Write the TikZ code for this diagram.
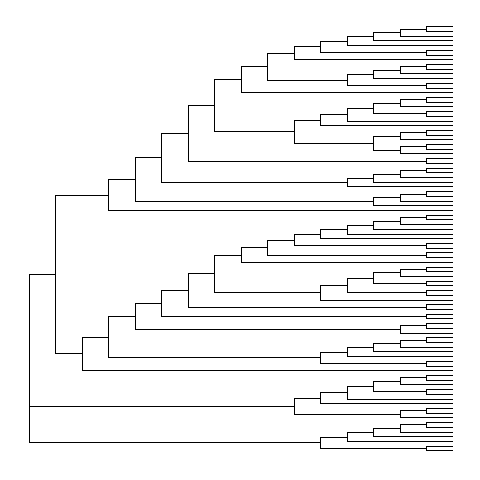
\documentclass[tikz,border=0pt]{standalone}
\usepackage{tikz}
\usetikzlibrary{calc}
\newcommand\clade[4]{%
  \path let \p1=(#3), \p2=(#4) in coordinate (#1) at ({453.3-26.5*#2},{0.5*(\y1+\y2)});
  \draw[branch] (#1) |- (#3) (#1) |- (#4);}
\begin{document}
\begin{tikzpicture}[x=1pt,y=1pt,
      branch/.style={line width=0.8pt,black}]
      \path[fill=white,use as bounding box] (0,0) rectangle (480,480);
      \foreach \i in {1,...,91}
        \coordinate (t\i) at (453.3,{453.33-4.712*(\i-1)});
      \clade{a1}{1}{t1}{t2}
      \clade{a2}{2}{a1}{t3}
      \clade{a3}{3}{a2}{t4}
      \clade{a4}{4}{a3}{t5}
      \clade{a5}{1}{t6}{t7}
      \clade{a6}{5}{a4}{a5}
      \clade{a7}{6}{a6}{t8}
      \clade{a8}{1}{t9}{t10}
      \clade{a9}{2}{a8}{t11}
      \clade{a10}{3}{a9}{t12}
      \clade{a11}{1}{t13}{t14}
      \clade{a12}{4}{a10}{a11}
      \clade{a13}{7}{a7}{a12}
      \clade{a14}{8}{a13}{t15}
      \clade{b1}{1}{t16}{t17}
      \clade{b2}{2}{b1}{t18}
      \clade{b3}{1}{t19}{t20}
      \clade{b4}{3}{b2}{b3}
      \clade{b5}{4}{b4}{t21}
      \clade{b6}{5}{b5}{t22}
      \clade{b7}{1}{t23}{t24}
      \clade{b8}{2}{b7}{t25}
      \clade{b9}{1}{t26}{t27}
      \clade{b10}{2}{b9}{t28}
      \clade{b11}{3}{b8}{b10}
      \clade{b12}{6}{b6}{b11}
      \clade{b13}{9}{a14}{b12}
      \clade{c1}{1}{t29}{t30}
      \clade{c2}{10}{b13}{c1}
      \clade{c3}{1}{t31}{t32}
      \clade{c4}{2}{c3}{t33}
      \clade{c5}{3}{c4}{t34}
      \clade{c6}{4}{c5}{t35}
      \clade{c7}{11}{c2}{c6}
      \clade{c8}{1}{t36}{t37}
      \clade{c9}{2}{c8}{t38}
      \clade{c10}{3}{c9}{t39}
      \clade{c11}{12}{c7}{c10}
      \clade{c12}{13}{c11}{t40}
      \clade{d1}{1}{t41}{t42}
      \clade{d2}{2}{d1}{t43}
      \clade{d3}{3}{d2}{t44}
      \clade{d4}{4}{d3}{t45}
      \clade{d5}{5}{d4}{t46}
      \clade{d6}{1}{t47}{t48}
      \clade{d7}{6}{d5}{d6}
      \clade{d8}{1}{t49}{t50}
      \clade{d9}{7}{d7}{d8}
      \clade{d10}{8}{d9}{t51}
      \clade{e1}{1}{t52}{t53}
      \clade{e2}{2}{e1}{t54}
      \clade{e3}{1}{t55}{t56}
      \clade{e4}{3}{e2}{e3}
      \clade{e5}{1}{t57}{t58}
      \clade{e6}{4}{e4}{e5}
      \clade{e7}{5}{e6}{t59}
      \clade{e8}{9}{d10}{e7}
      \clade{f1}{1}{t60}{t61}
      \clade{f2}{10}{e8}{f1}
      \clade{f3}{1}{t62}{t63}
      \clade{f4}{11}{f2}{f3}
      \clade{f5}{1}{t64}{t65}
      \clade{f6}{2}{f5}{t66}
      \clade{f7}{12}{f4}{f6}
      \clade{g1}{1}{t67}{t68}
      \clade{g2}{2}{g1}{t69}
      \clade{g3}{3}{g2}{t70}
      \clade{g4}{4}{g3}{t71}
      \clade{g5}{1}{t72}{t73}
      \clade{g6}{5}{g4}{g5}
      \clade{g7}{13}{f7}{g6}
      \clade{g8}{14}{g7}{t74}
      \clade{upper}{15}{c12}{g8}
      \clade{h1}{1}{t75}{t76}
      \clade{h2}{2}{h1}{t77}
      \clade{h3}{1}{t78}{t79}
      \clade{h4}{3}{h2}{h3}
      \clade{h5}{4}{h4}{t80}
      \clade{h6}{5}{h5}{t81}
      \clade{h7}{1}{t82}{t83}
      \clade{h8}{2}{h7}{t84}
      \clade{middle}{6}{h6}{h8}
      \clade{k1}{1}{t85}{t86}
      \clade{k2}{2}{k1}{t87}
      \clade{k3}{3}{k2}{t88}
      \clade{k4}{4}{k3}{t89}
      \clade{k5}{1}{t90}{t91}
      \clade{lower}{5}{k4}{k5}
      \path let \p1=(upper), \p2=(lower) in coordinate (root) at (29.3,{0.5*(\y1+\y2)});
      \draw[branch] (root) |- (upper) (root) |- (middle) (root) |- (lower);
    \end{tikzpicture}
\end{document}
